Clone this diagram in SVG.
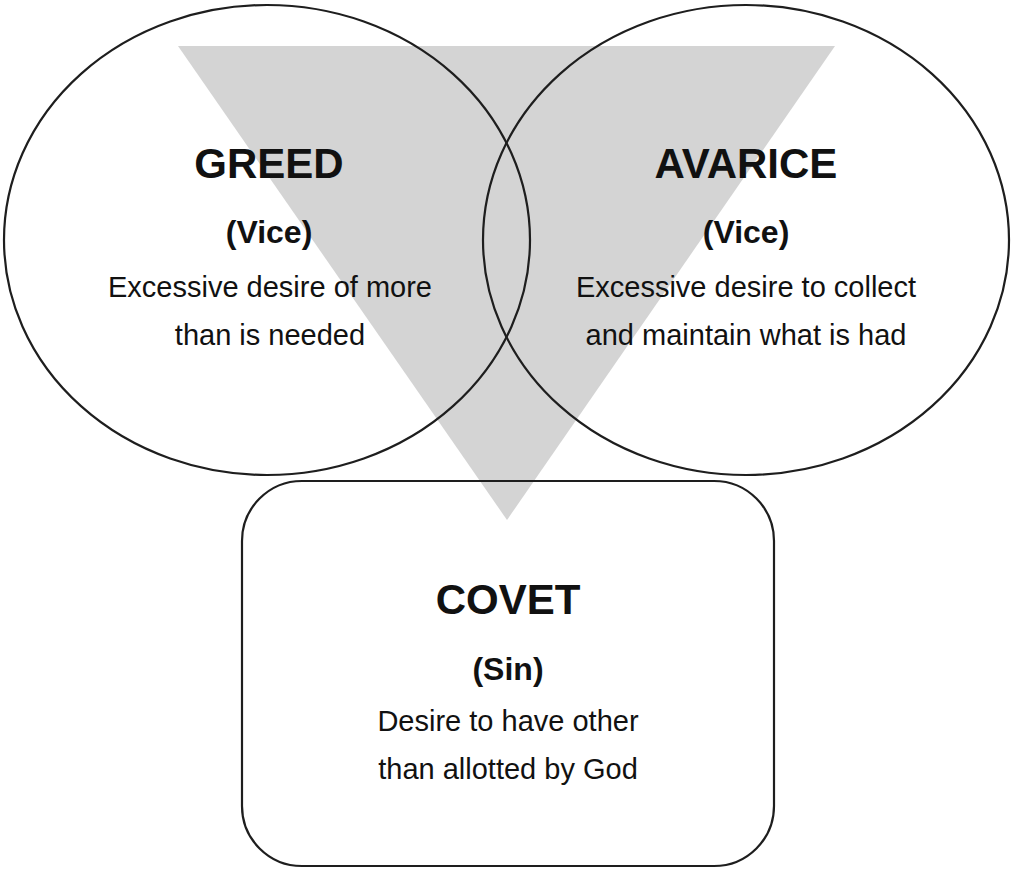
<svg xmlns="http://www.w3.org/2000/svg" width="1011" height="869" viewBox="0 0 1011 869">
<style>
.shape{fill:none;stroke:#1e1e1e;stroke-width:2.2}
.t{font-family:"Liberation Sans",Arial,sans-serif;fill:#111;text-anchor:middle}
.title{font-size:42px;font-weight:bold}
.sub{font-size:32px;font-weight:bold}
.desc{font-size:29px}
</style>
<rect width="1011" height="869" fill="#ffffff"/>
<g id="triangle">
<polygon points="178,46 835,46 507,520" fill="#d4d4d4"/>
</g>
<g id="greed">
<ellipse class="shape" cx="267" cy="240" rx="263" ry="235"/>
<text class="t title" x="269" y="178">GREED</text>
<text class="t sub" x="269" y="243">(Vice)</text>
<text class="t desc" x="270" y="297">Excessive desire of more</text>
<text class="t desc" x="270" y="345">than is needed</text>
</g>
<g id="avarice">
<ellipse class="shape" cx="746" cy="240" rx="263" ry="235"/>
<text class="t title" x="746" y="178">AVARICE</text>
<text class="t sub" x="746" y="243">(Vice)</text>
<text class="t desc" x="746" y="297">Excessive desire to collect</text>
<text class="t desc" x="746" y="345">and maintain what is had</text>
</g>
<g id="covet">
<rect class="shape" x="242" y="481" width="532" height="385" rx="60" ry="60"/>
<text class="t title" x="508" y="614">COVET</text>
<text class="t sub" x="508" y="680">(Sin)</text>
<text class="t desc" x="508" y="731">Desire to have other</text>
<text class="t desc" x="508" y="779">than allotted by God</text>
</g>
<g id="connectors"></g>
</svg>
